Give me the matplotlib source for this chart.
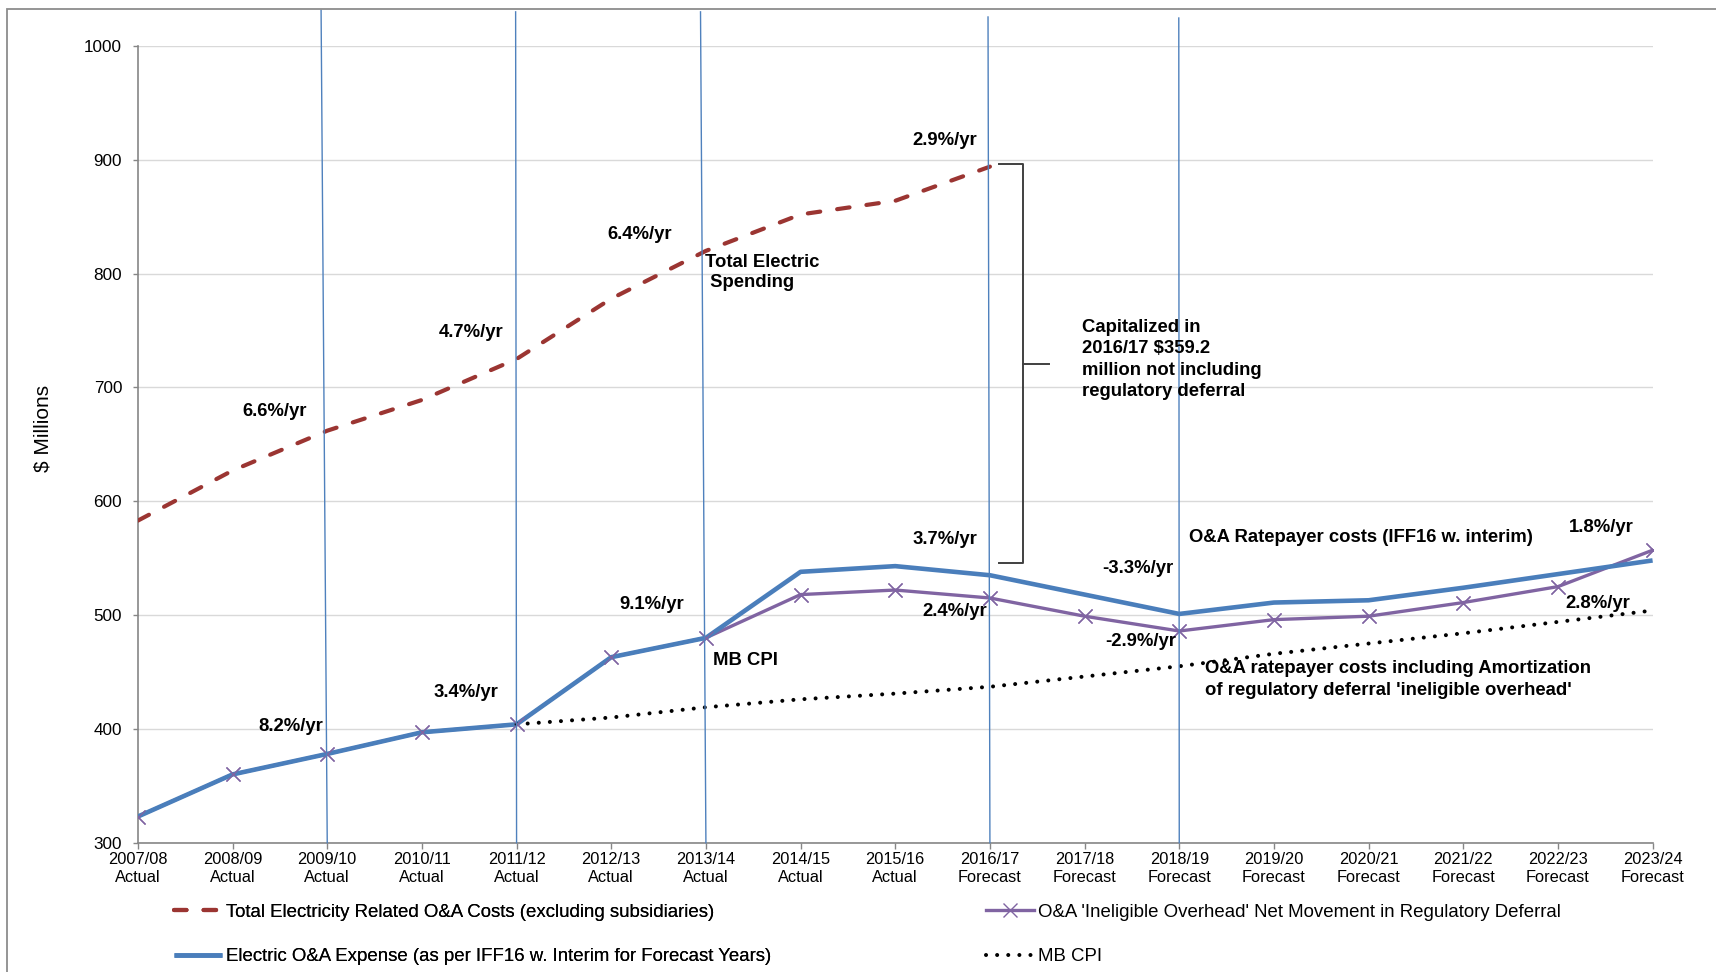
import matplotlib
matplotlib.use('Agg')
import matplotlib.pyplot as plt
from matplotlib.patches import Rectangle

plt.rcParams['font.family'] = ['Liberation Sans', 'DejaVu Sans']

# fiscal years and their status
years = ['2007/08', '2008/09', '2009/10', '2010/11', '2011/12', '2012/13',
         '2013/14', '2014/15', '2015/16', '2016/17', '2017/18', '2018/19',
         '2019/20', '2020/21', '2021/22', '2022/23', '2023/24']
periods = ['Actual'] * 9 + ['Forecast'] * 8

# $ millions
total_oa = [583, 627, 662, 689, 725, 778, 820, 852, 864, 894]
electric_oa = [323, 360, 378, 397, 404, 463, 480, 538, 543, 535, 518, 501,
               511, 513, 524, 536, 548]
ineligible_oa = [323, 360, 378, 397, 404, 463, 480, 518, 522, 515, 499, 486,
                 496, 499, 511, 525, 557]
cpi_start = '2011/12'
mb_cpi = [404, 410, 419, 426, 431, 437, 446, 455, 466, 475, 484, 494, 504]

divider_years = ['2009/10', '2011/12', '2013/14', '2016/17', '2018/19']

W, H = 1716, 972
fig = plt.figure(figsize=(W / 100, H / 100), dpi=100)
ax = fig.add_axes([137.9 / W, 1 - 842.7 / H, (1652.6 - 137.9) / W, (842.7 - 46) / H])

x = list(range(len(years)))
i0 = years.index(cpi_start)

red, blue, purple = '#9B3532', '#4A7EBB', '#8064A2'

l_total, = ax.plot(x[:len(total_oa)], total_oa, color=red, lw=3.0,
                   ls=(0, (3.0, 4.1)), dash_capstyle='round', zorder=3)
l_purple, = ax.plot(x, ineligible_oa, color=purple, lw=2.4, marker='x',
                    ms=10, mew=1.0, zorder=2)
l_blue, = ax.plot(x, electric_oa, color=blue, lw=3.3, zorder=3,
                  solid_capstyle='butt')
ax.plot(x, ineligible_oa, ls='none', marker='x', ms=10, mew=1.0,
        color=purple, zorder=5)
l_cpi, = ax.plot(x[i0:i0 + len(mb_cpi)], mb_cpi, color='black', lw=2.9,
                 ls=(0, (0.01, 2.75)), dash_capstyle='round', zorder=4)

# hand-drawn period dividers (slightly slanted)
tops = [1031.5, 1030, 1030, 1025.5, 1024.6]
slant = [-0.065, -0.01, -0.057, -0.02, -0.005]
for yr, top, dx in zip(divider_years, tops, slant):
    xi = years.index(yr)
    ax.plot([xi + dx, xi], [top, 300], color='#4F81BD', lw=1.0,
            clip_on=False, zorder=6)

# bracket for capitalized amount
ax.plot([9.1, 9.35, 9.35, 9.1], [896, 896, 546, 546], color='#404040',
        lw=1.4, zorder=6, clip_on=False)
ax.plot([9.35, 9.62], [721, 721], color='#404040', lw=1.4, zorder=6)

ax.set_xlim(0, 16)
ax.set_ylim(300, 1000)
ax.set_yticks(range(300, 1001, 100))
ax.set_xticks(x)
ax.set_xticklabels([f'{y}\n{p}' for y, p in zip(years, periods)],
                   fontsize=11.8, linespacing=1.25)
ax.tick_params(axis='y', labelsize=12.3, direction='out', length=3.3,
               pad=8, color='#868686', width=1)
ax.tick_params(axis='x', direction='out', length=4, pad=2.4,
               color='#868686', width=1)
ax.grid(axis='y', color='#D9D9D9', lw=1.0)
ax.set_axisbelow(True)
for s in ['top', 'right']:
    ax.spines[s].set_visible(False)
for s in ['left', 'bottom']:
    ax.spines[s].set_color('#868686')
    ax.spines[s].set_linewidth(1.2)

fig.text(43 / W, 1 - 428 / H, '$ Millions', rotation=90, ha='center',
         va='center', fontsize=15)

bold = dict(fontsize=13.3, fontweight='bold', zorder=7)
rate_labels = [
    ('6.6%/yr', 1.446, 679), ('4.7%/yr', 3.515, 748.4),
    ('6.4%/yr', 5.30, 834.6), ('2.9%/yr', 8.52, 917.4),
    ('8.2%/yr', 1.61, 402.5), ('3.4%/yr', 3.47, 432),
    ('9.1%/yr', 5.43, 509.7), ('3.7%/yr', 8.52, 566),
    ('2.4%/yr', 8.63, 503), ('-3.3%/yr', 10.56, 541),
    ('-2.9%/yr', 10.59, 477), ('1.8%/yr', 15.46, 577),
    ('2.8%/yr', 15.42, 510.3),
]
for txt, tx, ty in rate_labels:
    ax.text(tx, ty, txt, ha='center', va='center', **bold)

ax.text(5.99, 801, 'Total Electric\n Spending', ha='left', va='center',
        linespacing=1.3, **bold)
ax.text(6.08, 460.5, 'MB CPI', ha='left', va='center', **bold)
ax.text(9.975, 724.6, 'Capitalized in\n2016/17 $359.2\nmillion not including\nregulatory deferral',
        ha='left', va='center', linespacing=1.32, **bold)
ax.text(11.10, 568.3, 'O&A Ratepayer costs (IFF16 w. interim)', ha='left',
        va='center', **bold)
ax.text(11.27, 443.4, "O&A ratepayer costs including Amortization\nof regulatory deferral 'ineligible overhead'",
        ha='left', va='center', linespacing=1.32, **bold)

leg_kw = dict(loc='center left', frameon=False, fontsize=13.4, borderpad=0,
              borderaxespad=0, handlelength=2.6, handletextpad=0.2,
              labelspacing=1.45)
leg1 = fig.legend([l_total, l_blue],
                  ['Total Electricity Related O&A Costs (excluding subsidiaries)',
                   'Electric O&A Expense (as per IFF16 w. Interim for Forecast Years)'],
                  bbox_to_anchor=(174 / W, 1 - 934.5 / H), **leg_kw)
fig.add_artist(leg1)
fig.legend([l_purple, l_cpi],
           ["O&A 'Ineligible Overhead' Net Movement in Regulatory Deferral",
            'MB CPI'],
           bbox_to_anchor=(986 / W, 1 - 934.5 / H), **leg_kw)

# chart area border (top and left edges visible)
fig.add_artist(Rectangle((7 / W, -0.1), 2, 1.1 - 9 / H, transform=fig.transFigure,
                         fill=False, ec='#8C8C8C', lw=1.3))

fig.savefig('out.png', dpi=100, facecolor='white')
